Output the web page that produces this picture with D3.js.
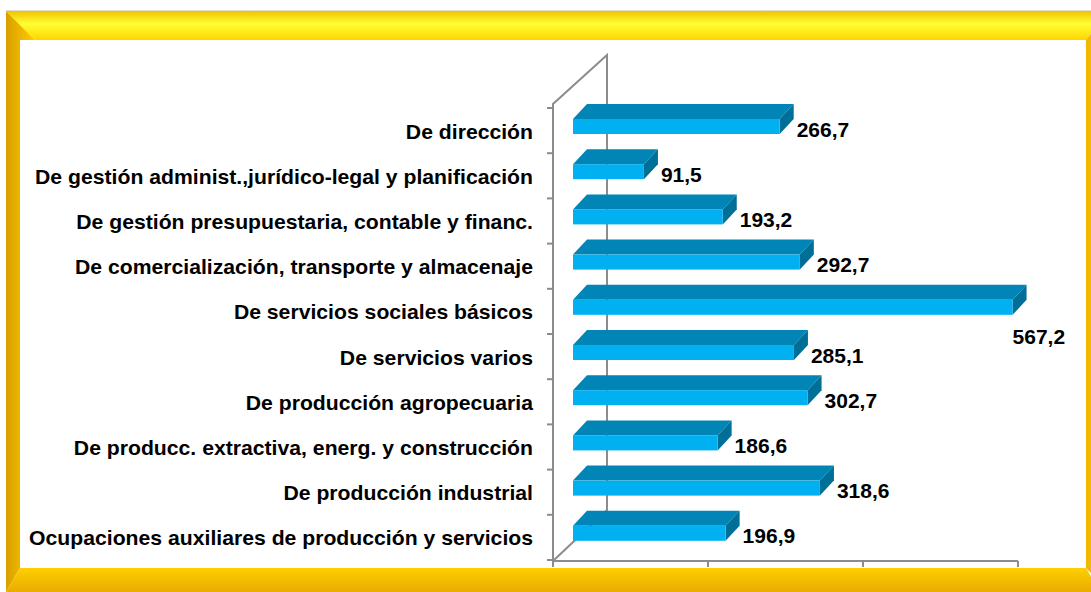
<!DOCTYPE html>
<html><head><meta charset="utf-8">
<script src="https://cdn.jsdelivr.net/npm/d3@7"></script>
<style>body{margin:0;background:#fff}svg{display:block}</style>
</head><body>
<script>
const categories = [
  "De dirección",
  "De gestión administ.,jurídico-legal y planificación",
  "De gestión presupuestaria, contable y financ.",
  "De comercialización, transporte y almacenaje",
  "De servicios sociales básicos",
  "De servicios varios",
  "De producción agropecuaria",
  "De producc. extractiva, energ. y construcción",
  "De producción industrial",
  "Ocupaciones auxiliares de producción y servicios"
];
const values = [266.7, 91.5, 193.2, 292.7, 567.2, 285.1, 302.7, 186.6, 318.6, 196.9];
const valueLabels = ["266,7","91,5","193,2","292,7","567,2","285,1","302,7","186,6","318,6","196,9"];
const xTicks = [0, 200, 400, 600];

const W = 1091, H = 592;
const svg = d3.select("body").append("svg").attr("width", W).attr("height", H);
const defs = svg.append("defs");

function grad(id, x1, y1, x2, y2, stops) {
  const g = defs.append("linearGradient").attr("id", id)
    .attr("x1", x1).attr("y1", y1).attr("x2", x2).attr("y2", y2);
  stops.forEach(s => g.append("stop").attr("offset", s[0]).attr("stop-color", s[1]));
}
grad("gTop", 0, 0, 0, 1, [[0, "#f2c200"], [0.45, "#ffff33"], [1, "#ffd400"]]);
grad("gLeft", 0, 0, 1, 0, [[0, "#d9a000"], [1, "#ffcc00"]]);
grad("gBottom", 0, 0, 0, 1, [[0, "#ffcf00"], [1, "#e9ab00"]]);
grad("gRight", 0, 0, 1, 0, [[0, "#f2b600"], [1, "#f7c000"]]);

// frame
svg.append("line").attr("x1", 6).attr("x2", W).attr("y1", 10.5).attr("y2", 10.5).attr("stroke", "#e2dccb").attr("stroke-width", 1);
const poly = pts => pts.map(p => p.join(",")).join(" ");
svg.append("polygon").attr("points", poly([[6,11],[1110,11],[1086,40],[35,40]])).attr("fill", "url(#gTop)");
svg.append("polygon").attr("points", poly([[6,11],[35,40],[20,40],[20,568],[6,592]])).attr("fill", "url(#gLeft)");
svg.append("polygon").attr("points", poly([[20,568],[1086,568],[1100,592],[6,592]])).attr("fill", "url(#gBottom)");
svg.append("polygon").attr("points", poly([[1086,40],[1110,11],[1110,592],[1086,568]])).attr("fill", "url(#gRight)");

// scales
const x = d3.scaleLinear().domain([0, 600]).range([553, 1018]);
const y = d3.scaleBand().domain(categories).range([108, 560]).padding(0);
const barDX = 20;            // bar front offset from front floor edge
const depthX = 14, depthY = 15;
const faceTop = 11, faceH = 15;

const axisColor = "#8c8c8c";
const axes = svg.append("g").attr("fill", "none").attr("stroke", axisColor).attr("stroke-width", 2);
axes.append("path").attr("d", `M553,561 L553,104 L607,55 L607,510 L553,561`);
axes.append("path").attr("d", `M553,561 L${x(600)},561`);
axes.selectAll("line.xt").data(xTicks).join("line")
  .attr("x1", d => x(d)).attr("x2", d => x(d)).attr("y1", 561).attr("y2", 567);
const yTicks = categories.map(c => y(c)).concat([560]);
axes.selectAll("line.yt").data(yTicks).join("line")
  .attr("x1", 547).attr("x2", 553).attr("y1", d => d).attr("y2", d => d);

// bars
const bars = svg.append("g");
categories.forEach((c, i) => {
  const x0 = x(0) + barDX, x1 = x(values[i]) + barDX;
  const t = y(c) + faceTop, b = t + faceH;
  const g = bars.append("g");
  g.append("polygon").attr("points", poly([[x0,t],[x0+depthX,t-depthY],[x1+depthX,t-depthY],[x1,t]])).attr("fill", "#0085b6");
  g.append("polygon").attr("points", poly([[x1,t],[x1+depthX,t-depthY],[x1+depthX,b-depthY],[x1,b]])).attr("fill", "#006f98");
  g.append("rect").attr("x", x0).attr("y", t).attr("width", x1 - x0).attr("height", faceH).attr("fill", "#00b0f0");
});

// category labels (slightly widened like the original)
const labelRight = 533, sx = 1.06;
svg.append("g").attr("transform", `translate(${labelRight},0) scale(${sx},1)`)
  .selectAll("text").data(categories).join("text")
  .attr("x", 0).attr("y", d => y(d) + y.bandwidth() / 2 + 8)
  .attr("text-anchor", "end")
  .attr("font-family", "Liberation Sans, Arial, sans-serif")
  .attr("font-weight", "bold").attr("font-size", 20)
  .attr("fill", "#000").text(d => d);

// value labels
svg.append("g").selectAll("text").data(categories).join("text")
  .attr("font-family", "Liberation Sans, Arial, sans-serif")
  .attr("font-weight", "bold").attr("font-size", 21).attr("fill", "#000")
  .each(function(d, i) {
    const x1 = x(values[i]) + barDX;
    const mid = y(d) + faceTop + faceH / 2;
    const el = d3.select(this).text(valueLabels[i]);
    const w = this.getComputedTextLength();
    if (x1 + depthX + 3 + w > 1070) {
      el.attr("x", x1).attr("y", mid + 37);
    } else {
      el.attr("x", x1 + depthX + 3).attr("y", mid + 10);
    }
  });
</script>
</body></html>
